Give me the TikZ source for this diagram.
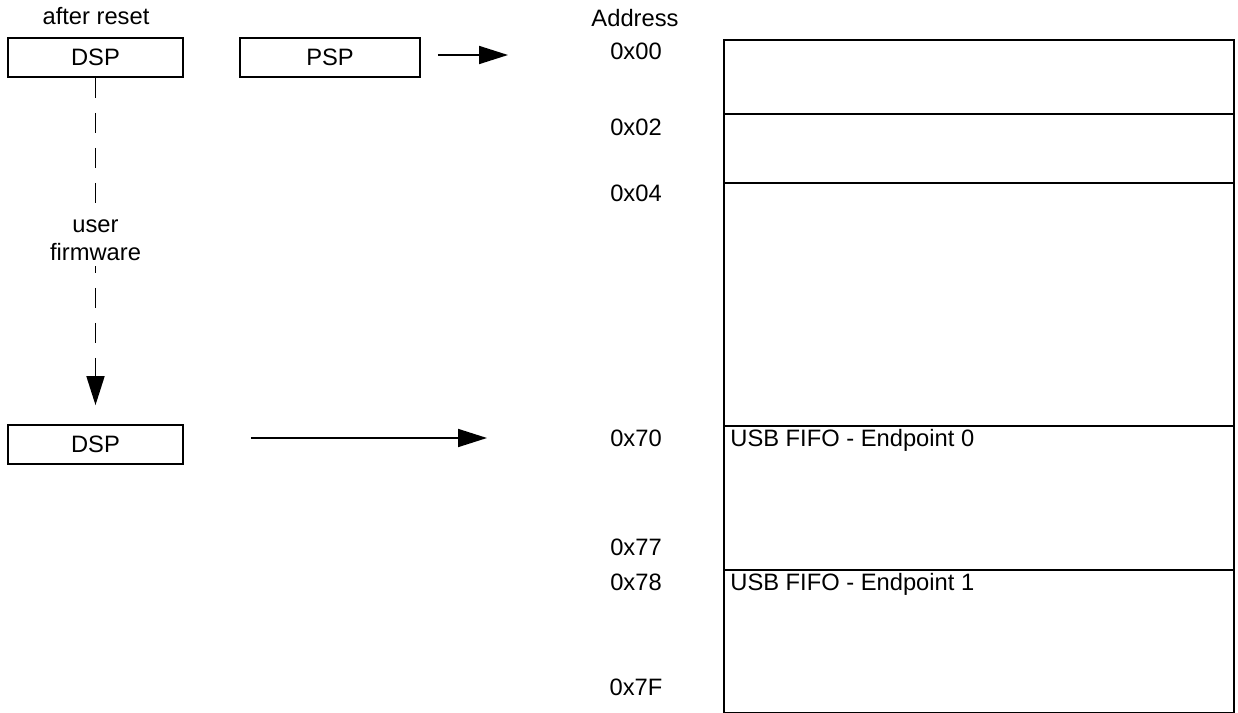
\documentclass[tikz,border=0pt]{standalone}
\usepackage{fontspec}
\setmainfont{Liberation Sans}
\usetikzlibrary{arrows.meta}

\begin{document}
\begin{tikzpicture}[x=0.02cm, y=-0.02cm,
  every node/.style={font=\fontsize{13.5pt}{16pt}\selectfont, inner sep=1pt},
  regbox/.style={draw, line width=1pt, minimum height=0.78cm, inner sep=0pt},
  memrow/.style={draw, line width=1pt, minimum width=10.2cm, anchor=north west, inner sep=0pt},
  flow/.style={-{Triangle[length=0.58cm, width=0.36cm]}, line width=1pt}]
\useasboundingbox (0,0) rectangle (1238,713);
\node (reset) at (96,16) {after reset};
\node[regbox, minimum width=3.5cm] (DSP1) at (95.5,57.5) {DSP};
\node[regbox, minimum width=3.6cm] (PSP) at (330,57.5) {PSP};
\node[regbox, minimum width=3.5cm] (DSP2) at (95.5,444.5) {DSP};
\node (addr) at (635,18) {Address};
\node (a00) at (636,51) {0x00};
\node (a02) at (636,127) {0x02};
\node (a04) at (636,193) {0x04};
\node (a70) at (636,438) {0x70};
\node (a77) at (636,547) {0x77};
\node (a78) at (636,582) {0x78};
\node (a7F) at (636,687) {0x7F};
\node[memrow, minimum height=1.48cm] (m0) at (723,39) {};
\node[memrow, minimum height=1.38cm] (m1) at (723,113) {};
\node[memrow, minimum height=4.86cm] (m2) at (723,182) {};
\node[memrow, minimum height=2.88cm] (m3) at (723,425) {};
\node[memrow, minimum height=2.86cm] (m4) at (723,569) {};
\node[anchor=north west, inner xsep=4pt, inner ysep=2.5pt] (ep0) at (m3.north west) {USB FIFO - Endpoint 0};
\node[anchor=north west, inner xsep=4pt, inner ysep=2.5pt] (ep1) at (m4.north west) {USB FIFO - Endpoint 1};
\coordinate (pspend) at (508,55);
\coordinate (dspend) at (487,438);
\draw[flow] ([shift={(17,-2.5)}]PSP.east) -- (pspend);
\draw[flow] ([shift={(67,-6.5)}]DSP2.east) -- (dspend);
\draw[flow, dash pattern=on 0.4cm off 0.3cm, shorten >=0.38cm] (DSP1.south) -- (DSP2.north)
  node[pos=0.47, fill=white, align=center, inner sep=3pt] (fw) {user\\firmware};
\end{tikzpicture}
\end{document}
